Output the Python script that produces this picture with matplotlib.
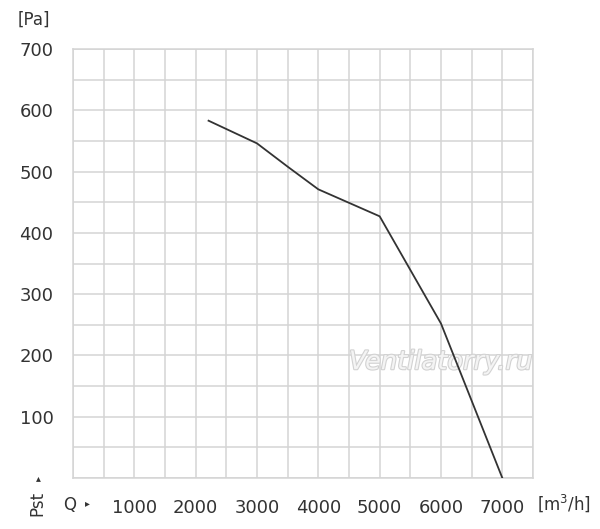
import matplotlib
matplotlib.use("Agg")
import matplotlib.pyplot as plt
import matplotlib.patheffects as pe
import numpy as np

# data
flow = [2210, 3000, 3500, 4000, 5000, 6000, 7000]
pressure = [583, 546, 508, 471, 427, 252, 0]
x_ticks = [1000, 2000, 3000, 4000, 5000, 6000, 7000]
y_ticks = [100, 200, 300, 400, 500, 600, 700]

fig = plt.figure(figsize=(6, 5.29), dpi=100)
ax = fig.add_axes([73/600, 1-478/529, 460/600, 429/529])
ax.set_xlim(0, 7500)
ax.set_ylim(0, 700)

grid_c = '#d4d4d4'
ax.set_xticks(np.arange(0, 7501, 500), minor=True)
ax.set_yticks(np.arange(0, 701, 50), minor=True)
ax.set_xticks(x_ticks)
ax.set_yticks(y_ticks)
ax.grid(True, which='both', color=grid_c, linewidth=1.1)
ax.set_axisbelow(True)
for s in ax.spines.values():
    s.set_color(grid_c)
    s.set_linewidth(1.1)
ax.tick_params(which='both', length=0)
ax.tick_params(axis='y', pad=14, labelsize=13, labelcolor='#333333')
ax.tick_params(axis='x', pad=15, labelsize=13, labelcolor='#333333')

ax.plot(flow, pressure, color='#333333', linewidth=1.3, zorder=3)

# watermark
ax.text(6000, 189, 'Ventilatorry.ru', fontsize=18.5, style='italic', family='DejaVu Sans',
        color='#f4f4f4', ha='center', va='center', zorder=2,
        path_effects=[pe.withStroke(linewidth=1.6, foreground='#d2d2d2')])

tc = '#333333'
fig.text(34/600, 1-20/529, '[Pa]', fontsize=12, color=tc, ha='center', va='center')
fig.text(70/600, 1-505/529, 'Q', fontsize=12, color=tc, ha='center', va='center')
fig.text(87/600, 1-503/529, '\u25b8', fontsize=7, color=tc, ha='center', va='center')
fig.text(37/600, 1-503/529, 'Pst', fontsize=12, color=tc, ha='center', va='center', rotation=90)
fig.text(38/600, 1-478/529, '\u25b4', fontsize=7, color=tc, ha='center', va='center')
fig.text(564/600, 1-503/529, '[m$^3$/h]', fontsize=12, color=tc, ha='center', va='center')

fig.savefig('out.png', dpi=100, facecolor='white')
